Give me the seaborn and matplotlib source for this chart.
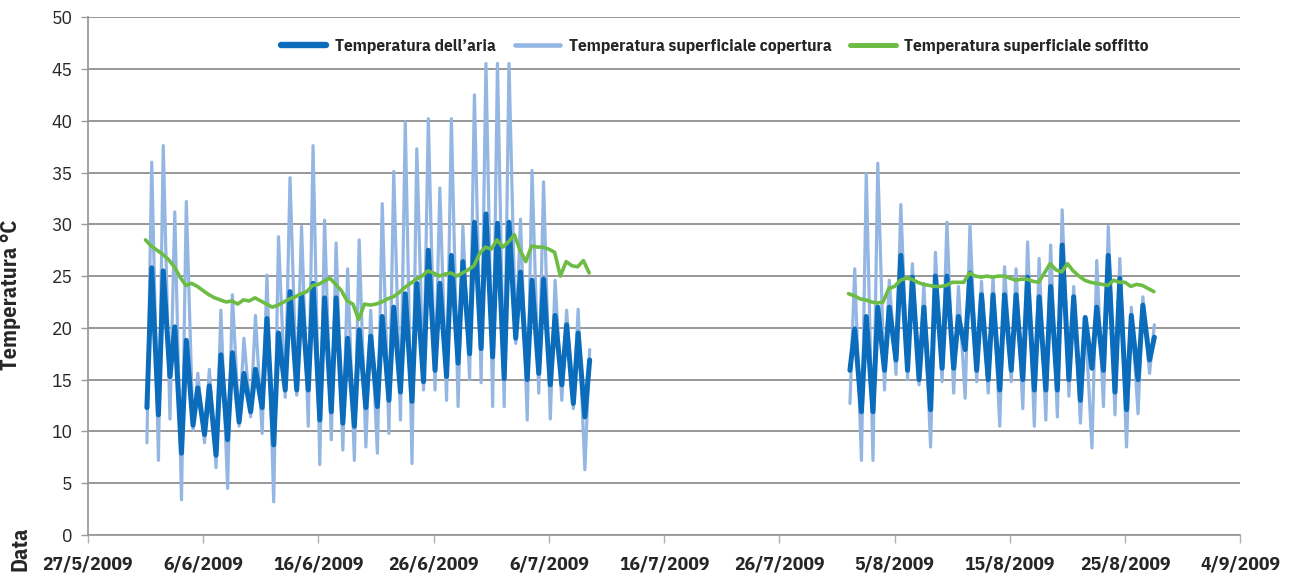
import pandas as pd
import matplotlib.pyplot as plt
import seaborn as sns
from matplotlib.lines import Line2D

# =========================
# Data
# =========================

# June-July campaign, one value per day starting 1/6/2009
# (min = early morning, max = early afternoon)
air_min_jun = [12.3, 11.6, 15.3, 7.9, 10.6, 9.7, 7.7, 9.2, 10.9, 11.9,
               12.3, 8.7, 14.0, 14.0, 14.0, 11.1, 11.9, 10.8, 10.5, 12.3,
               12.4, 13.0, 13.8, 12.9, 14.8, 15.9, 15.3, 16.6, 17.5, 18.0,
               17.2, 15.1, 19.0, 15.0, 15.6, 14.5, 14.5, 12.7, 11.4]
air_max_jun = [25.8, 25.5, 20.1, 18.8, 14.2, 14.4, 17.4, 17.6, 15.6, 16.0,
               20.9, 19.5, 23.5, 23.2, 24.3, 22.9, 22.9, 19.0, 19.8, 19.2,
               21.1, 22.0, 23.3, 24.3, 27.5, 24.3, 27.0, 26.4, 30.2, 31.0,
               30.1, 30.2, 25.4, 24.6, 24.7, 21.2, 20.3, 19.5, 16.9]
roof_min_jun = [8.9, 7.2, 11.2, 3.4, 10.1, 8.9, 6.5, 4.5, 10.5, 11.4,
                9.8, 3.2, 13.3, 13.5, 10.5, 6.8, 9.2, 8.2, 7.2, 8.5,
                7.9, 9.8, 11.1, 6.9, 14.0, 14.0, 13.0, 12.4, 15.0, 14.7,
                12.4, 12.4, 18.5, 11.1, 13.7, 11.2, 13.0, 12.2, 6.3]
roof_max_jun = [36.0, 37.6, 31.2, 32.2, 15.6, 16.0, 21.7, 23.2, 19.0, 21.2,
                25.1, 28.8, 34.5, 29.8, 37.6, 30.4, 28.2, 25.7, 28.5, 21.7,
                32.0, 35.1, 39.9, 37.3, 40.2, 33.5, 40.2, 29.8, 42.5, 45.6,
                45.6, 45.6, 30.5, 35.2, 34.1, 24.6, 21.7, 21.8, 17.9]
# ceiling surface, every 12 h from 1/6/2009 00:00
ceil_jun = [28.5, 27.9, 27.5, 27.1, 26.6, 25.9, 24.9, 24.1, 24.3, 24.0,
            23.6, 23.2, 22.9, 22.7, 22.5, 22.6, 22.3, 22.7, 22.6, 22.9,
            22.6, 22.3, 22.0, 22.2, 22.5, 22.8, 23.0, 23.3, 23.5, 24.1,
            24.2, 24.5, 24.8, 24.2, 23.6, 22.6, 22.3, 20.8, 22.3, 22.2,
            22.3, 22.5, 22.8, 23.0, 23.4, 23.9, 24.3, 24.7, 25.0, 25.5,
            25.3, 25.0, 25.2, 25.3, 25.0, 25.3, 25.6, 26.0, 27.2, 27.8,
            27.6, 28.5, 27.8, 28.3, 29.0, 27.5, 26.4, 27.9, 27.8, 27.8,
            27.6, 27.3, 25.0, 26.4, 26.0, 25.9, 26.5, 25.3]

# August campaign, one value per day starting 1/8/2009
air_min_aug = [15.9, 11.9, 11.9, 15.9, 16.9, 15.9, 15.0, 12.1, 16.1, 16.1,
               17.9, 15.9, 15.0, 14.0, 15.9, 15.0, 14.0, 14.0, 14.0, 15.0,
               13.0, 16.1, 15.9, 13.8, 12.1, 15.0, 16.9]
air_max_aug = [19.9, 21.1, 22.0, 22.0, 27.0, 24.9, 22.0, 25.0, 25.0, 21.1,
               25.3, 23.2, 23.2, 23.2, 23.2, 24.9, 23.0, 24.0, 28.0, 23.0,
               21.0, 22.0, 27.0, 24.8, 21.2, 22.2, 19.1]
roof_min_aug = [12.7, 7.2, 7.2, 14.0, 15.5, 15.0, 14.5, 8.5, 14.8, 13.7,
                13.2, 14.8, 13.7, 10.5, 14.8, 12.2, 10.5, 11.1, 11.4, 13.4,
                10.8, 8.4, 12.4, 11.6, 8.5, 11.7, 15.6]
roof_max_aug = [25.7, 34.9, 35.9, 24.6, 31.9, 26.2, 24.3, 27.3, 30.2, 24.0,
                29.9, 24.5, 24.9, 25.9, 25.7, 28.3, 26.7, 28.0, 31.4, 24.0,
                21.1, 26.5, 29.8, 26.7, 22.0, 23.0, 20.3]
ceil_aug = [23.3, 23.1, 22.8, 22.7, 22.5, 22.4, 22.5, 23.8, 24.0, 24.6,
            24.8, 24.7, 24.4, 24.2, 24.1, 24.0, 24.0, 24.1, 24.4, 24.4,
            24.4, 25.3, 25.0, 24.9, 25.0, 24.9, 25.0, 25.0, 24.8, 24.6,
            24.7, 24.7, 24.5, 24.4, 25.3, 26.2, 25.6, 25.4, 26.2, 25.5,
            25.0, 24.6, 24.4, 24.3, 24.2, 24.1, 24.6, 24.4, 24.4, 24.0,
            24.2, 24.1, 23.8, 23.5]

series_names = [
    "Temperatura dell\u2019aria",
    "Temperatura superficiale copertura",
    "Temperatura superficiale soffitto",
]
tick_labels = ["27/5/2009", "6/6/2009", "16/6/2009", "26/6/2009", "6/7/2009",
               "16/7/2009", "26/7/2009", "5/8/2009", "15/8/2009",
               "25/8/2009", "4/9/2009"]
y_ticks = [0, 5, 10, 15, 20, 25, 30, 35, 40, 45, 50]


# =========================
# Build long tables
# =========================

def daily_rows(start, mins, maxs, series, seg):
    t0 = pd.Timestamp(start)
    rows = []
    for d, (lo, hi) in enumerate(zip(mins, maxs)):
        rows.append((t0 + pd.Timedelta(days=d, hours=3), lo, series, seg))
        rows.append((t0 + pd.Timedelta(days=d, hours=13), hi, series, seg))
    return rows


def halfday_rows(start, vals, series, seg):
    t0 = pd.Timestamp(start)
    return [(t0 + pd.Timedelta(hours=12 * i), v, series, seg)
            for i, v in enumerate(vals)]


rows = []
rows += daily_rows("2009-06-01", air_min_jun, air_max_jun, "air", "jun")
rows += daily_rows("2009-08-01", air_min_aug, air_max_aug, "air", "aug")
rows += daily_rows("2009-06-01", roof_min_jun, roof_max_jun, "roof", "jun")
rows += daily_rows("2009-08-01", roof_min_aug, roof_max_aug, "roof", "aug")
rows += halfday_rows("2009-06-01", ceil_jun, "ceil", "jun")
rows += halfday_rows("2009-08-01", ceil_aug, "ceil", "aug")

df = pd.DataFrame(rows, columns=["time", "temp", "series", "segment"])

colors = {"air": "#0b6cbb", "roof": "#93b6e2", "ceil": "#6dbd45"}
widths = {"air": 3.6, "roof": 2.3, "ceil": 2.6}

# =========================
# Plot
# =========================

sns.set_style("white")
plt.rcParams["font.family"] = ["IBM Plex Sans Condensed", "DejaVu Sans"]

fig, ax = plt.subplots(figsize=(12.92, 5.74), dpi=100)
fig.subplots_adjust(left=0.068, right=0.960, top=0.970, bottom=0.068)

for key in ["roof", "air", "ceil"]:
    sns.lineplot(
        data=df[df["series"] == key],
        x="time",
        y="temp",
        units="segment",
        estimator=None,
        sort=False,
        color=colors[key],
        linewidth=widths[key],
        ax=ax,
    )

tick_dates = pd.date_range("2009-05-27", "2009-09-04", freq="10D")
ax.set_xlim(tick_dates[0], tick_dates[-1])
ax.set_xticks(tick_dates)
ax.set_xticklabels(tick_labels, fontsize=14, fontweight="bold")
ax.set_ylim(0, 50)
ax.set_yticks(y_ticks)
ax.set_yticklabels([str(v) for v in y_ticks], fontsize=14)

ax.grid(axis="y", color="#8f8f8f", linewidth=1.3)
ax.set_axisbelow(True)
for side in ["top", "right"]:
    ax.spines[side].set_visible(False)
for side in ["left", "bottom"]:
    ax.spines[side].set_color("#9a9a9a")
    ax.spines[side].set_linewidth(1.3)
ax.tick_params(axis="y", direction="out", length=5, color="#9a9a9a",
               width=1.0, pad=6, left=True)
ax.tick_params(axis="x", direction="out", length=6, color="#b0b0b0",
               width=1.0, pad=9, bottom=True)

ax.set_xlabel("")
ax.set_ylabel("Temperatura \u00b0C", fontsize=16, fontweight="bold")
ax.yaxis.set_label_coords(-0.058, 0.463)
fig.text(20 / 1292, 1 - 549 / 574, "Data", rotation=90, fontsize=16,
         fontweight="bold", ha="center", va="center")

handles = [Line2D([], [], color=colors[k], linewidth=widths[k] + 1)
           for k in ["air", "roof", "ceil"]]
leg = ax.legend(
    handles,
    series_names,
    loc="upper center",
    bbox_to_anchor=(0.544, 0.988),
    ncol=3,
    frameon=True,
    framealpha=1,
    edgecolor="white",
    fancybox=False,
    handlelength=2.6,
    handletextpad=0.5,
    columnspacing=1.1,
    prop={"size": 12.5, "weight": "bold"},
)

plt.savefig("out.png", dpi=100)
plt.close()
